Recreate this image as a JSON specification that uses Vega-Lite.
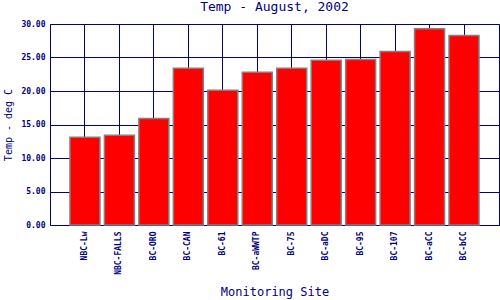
{
  "$schema": "https://vega.github.io/schema/vega-lite/v6.json",
  "autosize": "none",
  "width": 449,
  "height": 201,
  "padding": {"left": 50, "top": 24, "right": 1, "bottom": 75},
  "background": "white",
  "title": {
    "text": "Temp - August, 2002",
    "font": "DejaVu Sans Mono",
    "fontSize": 13,
    "fontWeight": "normal",
    "color": "#000080",
    "anchor": "middle",
    "offset": 6
  },
  "data": {
    "values": [
      {"site": "NBC-Lw", "temp": 13.1},
      {"site": "NBC-FALLS", "temp": 13.4},
      {"site": "BC-ORO", "temp": 15.9},
      {"site": "BC-CAN", "temp": 23.4},
      {"site": "BC-61", "temp": 20.1},
      {"site": "BC-aWWTP", "temp": 22.8},
      {"site": "BC-75", "temp": 23.4},
      {"site": "BC-aDC", "temp": 24.6},
      {"site": "BC-95", "temp": 24.7},
      {"site": "BC-107", "temp": 25.9},
      {"site": "BC-aCC", "temp": 29.3},
      {"site": "BC-bCC", "temp": 28.3}
    ]
  },
  "mark": {"type": "bar", "color": "#ff0000", "stroke": "#808080", "strokeWidth": 1.5},
  "encoding": {
    "x": {
      "field": "site",
      "type": "nominal",
      "sort": null,
      "scale": {"paddingInner": 0.13, "paddingOuter": 0.58},
      "axis": {
        "title": "Monitoring Site",
        "titleFont": "DejaVu Sans Mono",
        "titleFontSize": 12,
        "titleFontWeight": "normal",
        "titleColor": "#000080",
        "titleY": 61,
        "titleBaseline": "top",
        "labelFont": "DejaVu Sans Mono",
        "labelFontSize": 8,
        "labelFontWeight": "bold",
        "labelColor": "#000080",
        "labelAngle": 270,
        "labelAlign": "right",
        "labelBaseline": "middle",
        "labelPadding": 6,
        "ticks": false,
        "domain": false,
        "grid": true,
        "gridColor": "#000080",
        "gridOpacity": 1,
        "gridWidth": 1,
        "bandPosition": 0.5
      }
    },
    "y": {
      "field": "temp",
      "type": "quantitative",
      "scale": {"domain": [0, 30], "nice": false},
      "axis": {
        "title": "Temp - deg C",
        "titleFont": "DejaVu Sans Mono",
        "titleFontSize": 10,
        "titleFontWeight": "normal",
        "titleColor": "#000080",
        "titleX": -42,
        "titleBaseline": "middle",
        "values": [0, 5, 10, 15, 20, 25, 30],
        "format": ".2f",
        "labelFont": "DejaVu Sans Mono",
        "labelFontSize": 8,
        "labelFontWeight": "bold",
        "labelColor": "#000080",
        "labelPadding": 5,
        "ticks": false,
        "domain": false,
        "grid": true,
        "gridColor": "#000080",
        "gridOpacity": 1,
        "gridWidth": 1
      }
    }
  },
  "config": {
    "view": {"stroke": "#000080", "strokeWidth": 1}
  }
}
